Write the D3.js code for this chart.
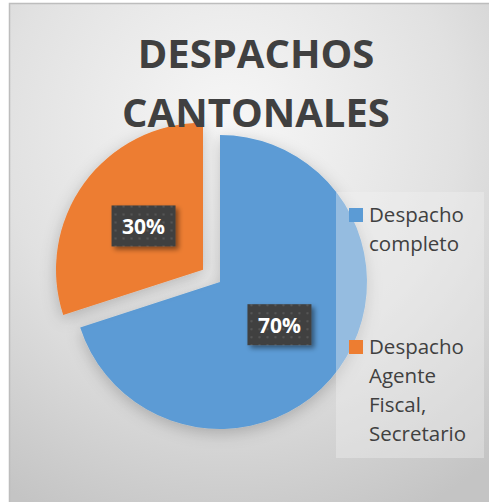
<!DOCTYPE html>
<html>
<head>
<meta charset="utf-8">
<script src="https://cdn.jsdelivr.net/npm/d3@7"></script>
<style>
  html, body { margin: 0; padding: 0; background: #ffffff; }
  svg { display: block; }
</style>
</head>
<body>
<div id="chart"></div>
<script>
// data
var categories = ["Despacho completo", "Despacho Agente Fiscal, Secretario"];
var legendLines = [["Despacho", "completo"], ["Despacho", "Agente", "Fiscal,", "Secretario"]];
var values = [70, 30];
var colors = ["#5B9BD5", "#ED7D31"];
var titleLines = ["DESPACHOS", "CANTONALES"];

function pieChart() {
	//size of area
	var width = 489;
	var height = 502;
	var cx = 220, cy = 282, radius = 147;
	var explode = 21;

	var svg = d3.select("#chart").append("svg")
		.attr("width", width)
		.attr("height", height);

	var defs = svg.append("defs");

	// background gradient
	var bg = defs.append("radialGradient")
		.attr("id", "bg")
		.attr("cx", "45%").attr("cy", "25%").attr("r", "85%");
	bg.append("stop").attr("offset", "0%").attr("stop-color", "#f7f7f7");
	bg.append("stop").attr("offset", "55%").attr("stop-color", "#e1e1e1");
	bg.append("stop").attr("offset", "100%").attr("stop-color", "#c4c4c4");

	// dot pattern for labels
	var pat = defs.append("pattern")
		.attr("id", "dots")
		.attr("width", 8).attr("height", 8)
		.attr("patternUnits", "userSpaceOnUse");
	pat.append("rect").attr("width", 8).attr("height", 8).attr("fill", "#3f3f3f");
	pat.append("circle").attr("cx", 4).attr("cy", 4).attr("r", 1.3).attr("fill", "#555555");

	var shadow = defs.append("filter").attr("id", "shadow")
		.attr("x", "-30%").attr("y", "-30%").attr("width", "160%").attr("height", "160%");
	shadow.append("feDropShadow")
		.attr("dx", 3).attr("dy", 3).attr("stdDeviation", 2.5)
		.attr("flood-color", "#000").attr("flood-opacity", 0.45);

	var pieShadow = defs.append("filter").attr("id", "pieShadow")
		.attr("x", "-30%").attr("y", "-30%").attr("width", "160%").attr("height", "160%");
	pieShadow.append("feDropShadow")
		.attr("dx", 0).attr("dy", 4).attr("stdDeviation", 8)
		.attr("flood-color", "#000").attr("flood-opacity", 0.22);

	svg.append("rect")
		.attr("x", 9.5).attr("y", 3.5)
		.attr("width", width).attr("height", height)
		.attr("fill", "url(#bg)")
		.attr("stroke", "#bdbdbd")
		.attr("stroke-width", 1.5);

	var pie = d3.pie().sort(null).value(function(d) { return d; });
	var arcs = pie(values);
	var arc = d3.arc().innerRadius(0).outerRadius(radius);

	function offset(d, i) {
		if (i === 0) return [0, 0];
		var a = (d.startAngle + d.endAngle) / 2;
		return [Math.sin(a) * explode, -Math.cos(a) * explode];
	}

	var g = svg.append("g").attr("transform", "translate(" + cx + "," + cy + ")");

	g.selectAll("path.slice")
		.data(arcs)
		.enter().append("path")
		.attr("class", "slice")
		.attr("transform", function(d, i) { var o = offset(d, i); return "translate(" + o[0] + "," + o[1] + ")"; })
		.attr("d", arc)
		.attr("fill", function(d, i) { return colors[i]; })
		.attr("filter", "url(#pieShadow)");

	// legend box (semi transparent, over the pie)
	var lx = 336, ly = 192, lw = 148, lh = 266;
	svg.append("rect")
		.attr("x", lx).attr("y", ly)
		.attr("width", lw).attr("height", lh)
		.attr("fill", "#f2f2f2")
		.attr("fill-opacity", 0.38);

	var itemY = [208, 340];
	var legend = svg.selectAll("g.legend")
		.data(categories)
		.enter().append("g")
		.attr("class", "legend")
		.attr("transform", function(d, i) { return "translate(349," + itemY[i] + ")"; });

	legend.append("rect")
		.attr("width", 14).attr("height", 14)
		.attr("fill", function(d, i) { return colors[i]; });

	legend.append("text")
		.attr("x", 20)
		.attr("y", 14)
		.attr("font-family", "Open Sans")
		.attr("font-size", 20.5)
		.attr("fill", "#404040")
		.selectAll("tspan")
		.data(function(d, i) { return legendLines[i]; })
		.enter().append("tspan")
		.attr("x", 20)
		.attr("dy", function(d, j) { return j === 0 ? 0 : 29; })
		.text(function(d) { return d; });

	// data labels
	var labels = g.selectAll("g.label")
		.data(arcs)
		.enter().append("g")
		.attr("class", "label")
		.attr("transform", function(d, i) {
			var o = offset(d, i);
			var c = arc.centroid(d);
			return "translate(" + (c[0] + o[0]) + "," + (c[1] + o[1]) + ")";
		});

	labels.append("rect")
		.attr("x", -32).attr("y", -21)
		.attr("width", 64).attr("height", 41)
		.attr("fill", "url(#dots)")
		.attr("filter", "url(#shadow)");

	labels.append("text")
		.attr("text-anchor", "middle")
		.attr("y", 8)
		.attr("font-family", "Open Sans")
		.attr("font-weight", "bold")
		.attr("font-size", 21)
		.attr("fill", "#ffffff")
		.text(function(d) { return d.data + "%"; });

	// title
	svg.append("text")
		.attr("text-anchor", "middle")
		.attr("font-family", "Open Sans")
		.attr("font-weight", "bold")
		.attr("font-size", 40)
		.attr("fill", "#404040")
		.selectAll("tspan")
		.data(titleLines)
		.enter().append("tspan")
		.attr("x", 256)
		.attr("y", function(d, i) { return 68 + i * 59; })
		.text(function(d) { return d; });
}

pieChart();
</script>
</body>
</html>
